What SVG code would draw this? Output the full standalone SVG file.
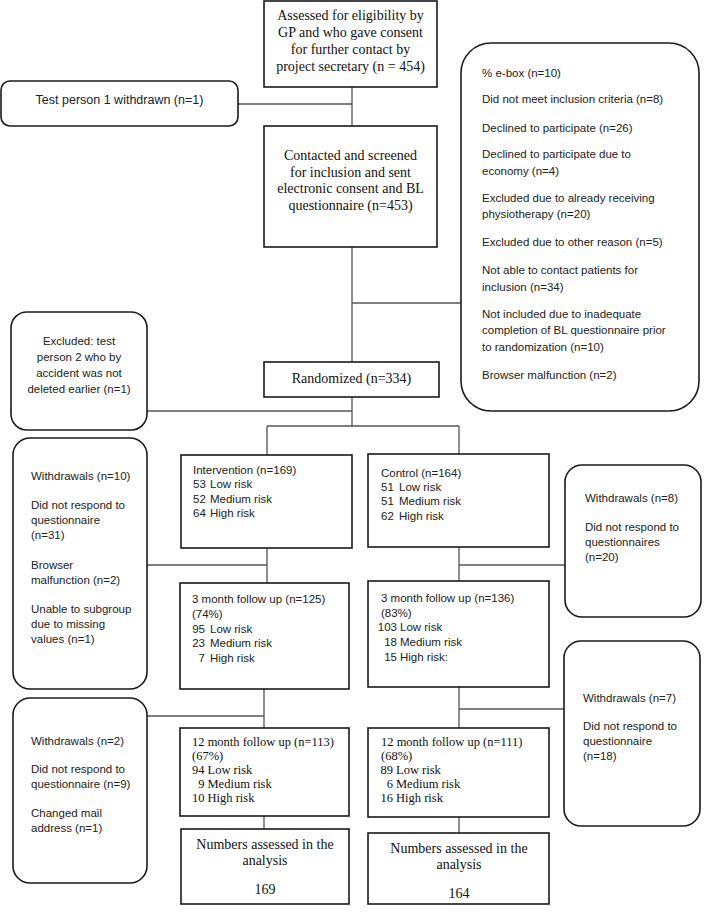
<svg xmlns="http://www.w3.org/2000/svg" width="709" height="924" viewBox="0 0 709 924">
<style>
.box{fill:#fff;stroke:#1a1a1a;stroke-width:1.6}
.conn{stroke:#555;stroke-width:1.3;fill:none}
.serif{font-family:"Liberation Serif","Times New Roman",serif;font-size:14px;fill:#111}
.serif.sm{font-size:12.5px}
.sans{font-family:"Liberation Sans",Arial,sans-serif;font-size:11.5px;fill:#222}
.c{text-anchor:middle}
.e{text-anchor:end}
</style>
<rect width="709" height="924" fill="#fff"/>
<g id="connectors">
<path class="conn" d="M352 87V126M238 104H352"/>
<path class="conn" d="M352 247V362M352 303H461"/>
<path class="conn" d="M352 397V426M147 411H352M267 426H459M267 426V455M459 426V454"/>
<path class="conn" d="M267 548V583M147 565H267"/>
<path class="conn" d="M264 689V728M147 716H264M264 816V829"/>
<path class="conn" d="M459 547V581M459 565H565"/>
<path class="conn" d="M459 687V728M459 709H564M459 817V833"/>
</g>
<g id="assessed">
<rect class="box" x="264" y="1" width="173" height="86"/>
<text class="serif c"><tspan x="350.5" y="19.5">Assessed for eligibility by</tspan><tspan x="350.5" y="36.5">GP and who gave consent</tspan><tspan x="350.5" y="53.5">for further contact by</tspan><tspan x="350.5" y="70.5">project secretary (n = 454)</tspan></text>
</g>
<g id="testperson1">
<rect class="box" x="1" y="81" width="237" height="45" rx="9"/>
<text class="sans c" style="font-size:12.5px" x="119.5" y="103.5">Test person 1 withdrawn (n=1)</text>
</g>
<g id="contacted">
<rect class="box" x="264" y="126" width="173" height="121"/>
<text class="serif c"><tspan x="350.5" y="160">Contacted and screened</tspan><tspan x="350.5" y="177">for inclusion and sent</tspan><tspan x="350.5" y="193">electronic consent and BL</tspan><tspan x="350.5" y="210">questionnaire (n=453)</tspan></text>
</g>
<g id="ebox">
<rect class="box" x="461" y="43" width="238" height="368" rx="30"/>
<text class="sans"><tspan x="482" y="77">% e-box (n=10)</tspan><tspan x="482" y="103">Did not meet inclusion criteria (n=8)</tspan><tspan x="482" y="132">Declined to participate (n=26)</tspan><tspan x="482" y="158">Declined to participate due to</tspan><tspan x="482" y="175">economy (n=4)</tspan><tspan x="482" y="202">Excluded due to already receiving</tspan><tspan x="482" y="218">physiotherapy (n=20)</tspan><tspan x="482" y="246">Excluded due to other reason (n=5)</tspan><tspan x="482" y="274">Not able to contact patients for</tspan><tspan x="482" y="291">inclusion (n=34)</tspan><tspan x="482" y="318">Not included due to inadequate</tspan><tspan x="482" y="334">completion of BL questionnaire prior</tspan><tspan x="482" y="351">to randomization (n=10)</tspan><tspan x="482" y="379">Browser malfunction (n=2)</tspan></text>
</g>
<g id="excluded">
<rect class="box" x="11" y="312" width="136" height="118" rx="16"/>
<text class="sans c"><tspan x="79" y="345">Excluded: test</tspan><tspan x="79" y="361">person 2 who by</tspan><tspan x="79" y="377">accident was not</tspan><tspan x="79" y="393">deleted earlier (n=1)</tspan></text>
</g>
<g id="randomized">
<rect class="box" x="264" y="362" width="175" height="35"/>
<text class="serif c" x="351.5" y="382.5">Randomized (n=334)</text>
</g>
<g id="withdrawals10">
<rect class="box" x="13" y="438" width="134" height="251" rx="17"/>
<text class="sans"><tspan x="31" y="480">Withdrawals (n=10)</tspan><tspan x="31" y="509">Did not respond to</tspan><tspan x="31" y="524">questionnaire</tspan><tspan x="31" y="539">(n=31)</tspan><tspan x="31" y="569">Browser</tspan><tspan x="31" y="584">malfunction (n=2)</tspan><tspan x="31" y="613">Unable to subgroup</tspan><tspan x="31" y="628">due to missing</tspan><tspan x="31" y="643">values (n=1)</tspan></text>
</g>
<g id="intervention">
<rect class="box" x="181" y="455" width="171" height="93"/>
<text class="sans"><tspan x="193" y="474">Intervention (n=169)</tspan><tspan x="193" y="488">53</tspan><tspan x="210" y="488">Low risk</tspan><tspan x="193" y="503">52</tspan><tspan x="210" y="503">Medium risk</tspan><tspan x="193" y="517">64</tspan><tspan x="210" y="517">High risk</tspan></text>
</g>
<g id="control">
<rect class="box" x="368" y="454" width="181" height="93"/>
<text class="sans"><tspan x="381" y="477">Control (n=164)</tspan><tspan x="381" y="491">51</tspan><tspan x="399" y="491">Low risk</tspan><tspan x="381" y="505">51</tspan><tspan x="399" y="505">Medium risk</tspan><tspan x="381" y="520">62</tspan><tspan x="399" y="520">High risk</tspan></text>
</g>
<g id="withdrawals8">
<rect class="box" x="565" y="465" width="136" height="152" rx="17"/>
<text class="sans"><tspan x="585" y="502">Withdrawals (n=8)</tspan><tspan x="585" y="531">Did not respond to</tspan><tspan x="585" y="546">questionnaires</tspan><tspan x="585" y="561">(n=20)</tspan></text>
</g>
<g id="int3m">
<rect class="box" x="180" y="583" width="169" height="106"/>
<text class="sans"><tspan x="192" y="603">3 month follow up (n=125)</tspan><tspan x="192" y="618">(74%)</tspan></text>
<text class="sans e"><tspan x="205" y="633">95</tspan><tspan x="205" y="647">23</tspan><tspan x="205" y="662">7</tspan></text>
<text class="sans"><tspan x="210" y="633">Low risk</tspan><tspan x="210" y="647">Medium risk</tspan><tspan x="210" y="662">High risk</tspan></text>
</g>
<g id="ctrl3m">
<rect class="box" x="368" y="581" width="181" height="106"/>
<text class="sans"><tspan x="381" y="602">3 month follow up (n=136)</tspan><tspan x="381" y="617">(83%)</tspan></text>
<text class="sans e"><tspan x="397" y="631">103</tspan><tspan x="397" y="646">18</tspan><tspan x="397" y="661">15</tspan></text>
<text class="sans"><tspan x="400" y="631">Low risk</tspan><tspan x="400" y="646">Medium risk</tspan><tspan x="400" y="661">High risk:</tspan></text>
</g>
<g id="withdrawals2">
<rect class="box" x="13" y="698" width="134" height="185" rx="17"/>
<text class="sans"><tspan x="31" y="745">Withdrawals (n=2)</tspan><tspan x="31" y="773">Did not respond to</tspan><tspan x="31" y="788">questionnaire (n=9)</tspan><tspan x="31" y="817">Changed mail</tspan><tspan x="31" y="832">address (n=1)</tspan></text>
</g>
<g id="withdrawals7">
<rect class="box" x="564" y="641" width="136" height="185" rx="17"/>
<text class="sans"><tspan x="583" y="702">Withdrawals (n=7)</tspan><tspan x="583" y="730">Did not respond to</tspan><tspan x="583" y="745">questionnaire</tspan><tspan x="583" y="760">(n=18)</tspan></text>
</g>
<g id="int12m">
<rect class="box" x="180" y="728" width="169" height="88"/>
<text class="serif sm"><tspan x="192" y="746">12 month follow up (n=113)</tspan><tspan x="192" y="760">(67%)</tspan></text>
<text class="serif sm e"><tspan x="204.5" y="774">94</tspan><tspan x="204.5" y="788">9</tspan><tspan x="204.5" y="802">10</tspan></text>
<text class="serif sm"><tspan x="207.5" y="774">Low risk</tspan><tspan x="207.5" y="788">Medium risk</tspan><tspan x="207.5" y="802">High risk</tspan></text>
</g>
<g id="ctrl12m">
<rect class="box" x="368" y="728" width="181" height="89"/>
<text class="serif sm"><tspan x="381" y="746">12 month follow up (n=111)</tspan><tspan x="381" y="760">(68%)</tspan></text>
<text class="serif sm e"><tspan x="393" y="774">89</tspan><tspan x="393" y="788">6</tspan><tspan x="393" y="802">16</tspan></text>
<text class="serif sm"><tspan x="396" y="774">Low risk</tspan><tspan x="396" y="788">Medium risk</tspan><tspan x="396" y="802">High risk</tspan></text>
</g>
<g id="intAnalysis">
<rect class="box" x="181" y="829" width="168" height="75"/>
<text class="serif c"><tspan x="265" y="849">Numbers assessed in the</tspan><tspan x="265" y="865">analysis</tspan><tspan x="265" y="894">169</tspan></text>
</g>
<g id="ctrlAnalysis">
<rect class="box" x="368" y="833" width="181" height="71"/>
<text class="serif c"><tspan x="459" y="853">Numbers assessed in the</tspan><tspan x="459" y="869">analysis</tspan><tspan x="459" y="898">164</tspan></text>
</g>
</svg>
